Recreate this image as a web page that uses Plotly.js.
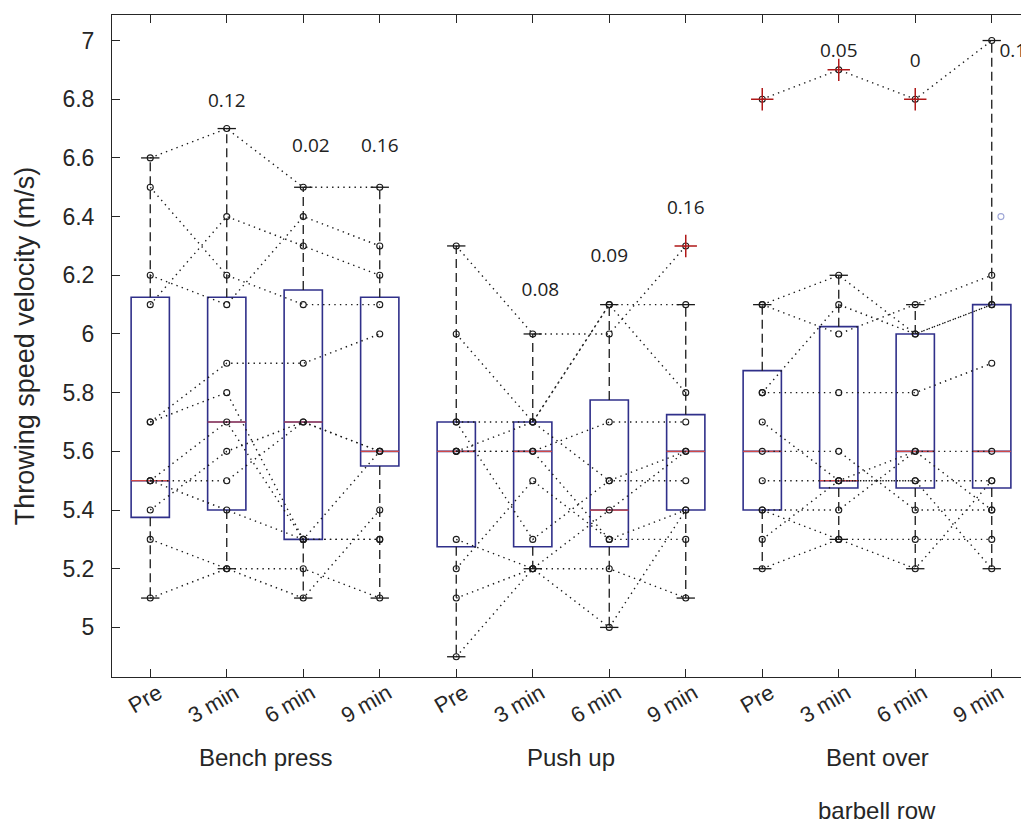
<!DOCTYPE html>
<html>
<head>
<meta charset="utf-8">
<script src="https://cdn.plot.ly/plotly-3.0.1.min.js"></script>
<style>
html,body{margin:0;padding:0;overflow:hidden;background:#ffffff;}
#chart{width:1040px;height:833px;}
</style>
</head>
<body>
<div id="chart"></div>
<script>
// ---- data ----
const positions = [1,2,3,4,5,6,7,8,9,10,11,12];
const tickLabels = ['Pre','3 min','6 min','9 min','Pre','3 min','6 min','9 min','Pre','3 min','6 min','9 min'];
const yTicks = [5,5.2,5.4,5.6,5.8,6,6.2,6.4,6.6,6.8,7];
const groupNames = ['Bench press','Push up','Bent over','barbell row'];
const groupCenters = [2.5,6.5,10.5,10.5];

const q1 = [5.375,5.4,5.3,5.55, 5.275,5.275,5.275,5.4, 5.4,5.475,5.475,5.475];
const medians = [5.5,5.7,5.7,5.6, 5.6,5.6,5.4,5.6, 5.6,5.5,5.6,5.6];
const q3 = [6.125,6.125,6.15,6.125, 5.7,5.7,5.775,5.725, 5.875,6.025,6.0,6.1];
const lowerWhisker = [5.1,5.2,5.1,5.1, 4.9,5.2,5.0,5.1, 5.2,5.3,5.2,5.2];
const upperWhisker = [6.6,6.7,6.5,6.5, 6.3,6.0,6.1,6.1, 6.1,6.2,6.1,7.0];

const outlierPos = [8,9,10,11];
const outlierVal = [6.3,6.8,6.9,6.8];

const pLabels = ['0.12','0.02','0.16','0.08','0.09','0.16','0.05','0','0.1'];
const pLabelX = [2,3.1,4,6.1,7,8,10,11,12.1];
const pLabelY = [6.79,6.635,6.635,6.147,6.263,6.424,6.96,6.925,6.96];

const extraMarkerX = [12.12];
const extraMarkerY = [6.4];

// subjects: values at Pre, 3 min, 6 min, 9 min
const benchPress = [
  [6.6,6.7,6.5,6.5],
  [6.5,6.2,6.1,6.1],
  [6.2,6.1,6.4,6.3],
  [6.1,6.4,6.3,6.2],
  [5.7,5.9,5.9,6.0],
  [5.7,5.8,5.3,5.6],
  [5.5,5.5,5.7,5.6],
  [5.3,5.2,5.1,5.4],
  [5.1,5.2,5.2,5.1],
  [5.4,5.6,5.7,5.6],
  [5.5,5.7,5.3,5.3],
  [5.5,5.4,5.3,5.3]
];
const pushUp = [
  [6.3,6.0,6.0,6.3],
  [6.0,5.7,6.1,6.1],
  [5.7,5.7,5.5,5.6],
  [5.6,5.6,5.7,5.7],
  [5.6,5.7,6.1,5.8],
  [5.7,5.3,5.5,5.5],
  [5.3,5.2,5.2,5.1],
  [5.2,5.5,5.3,5.3],
  [5.1,5.2,5.0,5.4],
  [4.9,5.2,5.4,5.6],
  [5.6,5.6,5.3,5.4]
];
const bentOverRow = [
  [6.8,6.9,6.8,7.0],
  [6.1,6.2,6.0,6.1],
  [6.1,6.0,6.1,6.2],
  [5.8,6.1,6.0,6.1],
  [5.8,5.8,5.8,5.9],
  [5.7,5.5,5.6,5.4],
  [5.6,5.6,5.4,5.4],
  [5.5,5.5,5.5,5.5],
  [5.4,5.3,5.3,5.3],
  [5.3,5.5,5.5,5.2],
  [5.2,5.3,5.2,5.5],
  [5.4,5.4,5.6,5.6]
];

// ---- styles ----
const boxColor = '#30308a';
const medianColor = '#d04848';
const inkColor = '#1a1a1a';
const axisColor = '#262626';
const yTickFont = {family:'"Liberation Sans", Arial, sans-serif', size:23, color:axisColor};
const xTickFont = {family:'"Liberation Sans", Arial, sans-serif', size:22, color:axisColor};
const titleFont = {family:'"Liberation Sans", Arial, sans-serif', size:27, color:axisColor};
const labelFont = {family:'"Liberation Sans", Arial, sans-serif', size:24, color:axisColor};
const pFont = {family:'"Open Sans", sans-serif', size:19, color:'#222222'};
const boxHalf = 0.25, capHalf = 0.12;

const traces = [];

// boxes
traces.push({
  type:'box', x:positions, q1:q1, median:medians, q3:q3,
  lowerfence:q1, upperfence:q3, width:2*boxHalf,
  line:{color:boxColor, width:1.6}, fillcolor:'rgba(0,0,0,0)',
  boxpoints:false, hoverinfo:'skip', showlegend:false
});

// whiskers, caps, medians
const wx=[], wy=[], cx=[], cy=[], mx=[], my=[];
positions.forEach((p,i)=>{
  wx.push(p,p,null,p,p,null);
  wy.push(q3[i],upperWhisker[i],null,q1[i],lowerWhisker[i],null);
  cx.push(p-capHalf,p+capHalf,null,p-capHalf,p+capHalf,null);
  cy.push(upperWhisker[i],upperWhisker[i],null,lowerWhisker[i],lowerWhisker[i],null);
  mx.push(p-boxHalf,p+boxHalf,null);
  my.push(medians[i],medians[i],null);
});
traces.push({type:'scatter',mode:'lines',x:wx,y:wy,line:{color:inkColor,width:1.3,dash:'9px,5px'},hoverinfo:'skip',showlegend:false});
traces.push({type:'scatter',mode:'lines',x:cx,y:cy,line:{color:inkColor,width:1.3},hoverinfo:'skip',showlegend:false});
traces.push({type:'scatter',mode:'lines',x:mx,y:my,line:{color:medianColor,width:1.2},hoverinfo:'skip',showlegend:false});

// subject lines
[benchPress,pushUp,bentOverRow].forEach((grp,g)=>{
  grp.forEach(row=>{
    traces.push({
      type:'scatter', mode:'lines+markers',
      x:row.map((v,k)=>positions[g*4+k]), y:row,
      line:{color:inkColor,width:1.4,dash:'1.4px,4.2px'},
      marker:{symbol:'circle-open',size:6,color:inkColor,line:{width:1.1,color:inkColor}},
      hoverinfo:'skip', showlegend:false
    });
  });
});

// outliers
traces.push({type:'scatter',mode:'markers',x:outlierPos,y:outlierVal,
  marker:{symbol:'cross-thin-open',size:16,color:'#b01818',line:{color:'#b01818',width:1.5}},
  hoverinfo:'skip',showlegend:false});

// faint extra marker at the right edge
traces.push({type:'scatter',mode:'markers',x:extraMarkerX,y:extraMarkerY,
  marker:{symbol:'circle-open',size:6,color:'#9ea6d6',line:{color:'#9ea6d6',width:1.1}},
  hoverinfo:'skip',showlegend:false,cliponaxis:false});

// p-value labels
traces.push({type:'scatter',mode:'text',x:pLabelX,y:pLabelY,text:pLabels,
  textposition:pLabels.map((t,i)=> i===pLabels.length-1 ? 'middle right' : 'middle center'),
  textfont:pFont,hoverinfo:'skip',showlegend:false,cliponaxis:false});

const annotations = [
  {x:groupCenters[0],y:-0.122,text:groupNames[0]},
  {x:groupCenters[1],y:-0.122,text:groupNames[1]},
  {x:groupCenters[2],y:-0.122,text:groupNames[2]},
  {x:groupCenters[3],y:-0.201,text:groupNames[3]}
].map(a=>Object.assign(a,{xref:'x',yref:'paper',showarrow:false,xanchor:'center',yanchor:'middle',font:labelFont}));

const axisCommon = {
  showline:true, linecolor:axisColor, linewidth:1, mirror:'ticks',
  ticks:'inside', ticklen:8, tickcolor:axisColor, tickwidth:1,
  showgrid:false, zeroline:false
};

const layout = {
  width:1040, height:833,
  margin:{l:112,r:10,t:15,b:156},
  paper_bgcolor:'#ffffff', plot_bgcolor:'#ffffff',
  showlegend:false,
  xaxis:Object.assign({}, axisCommon, {
    range:[0.5,12.5], tickmode:'array', tickvals:positions, ticktext:tickLabels,
    tickangle:-30, ticklabelstandoff:-6, ticklabelshift:8, tickfont:xTickFont
  }),
  yaxis:Object.assign({}, axisCommon, {
    range:[4.831,7.087], tickmode:'array', tickvals:yTicks, ticktext:yTicks.map(v=>String(v)),
    ticklabelstandoff:12, tickfont:yTickFont,
    title:{text:'Throwing speed velocity (m/s)', font:titleFont, standoff:19}
  }),
  annotations:annotations
};

Plotly.newPlot('chart', traces, layout, {staticPlot:true, displayModeBar:false});
</script>
</body>
</html>
